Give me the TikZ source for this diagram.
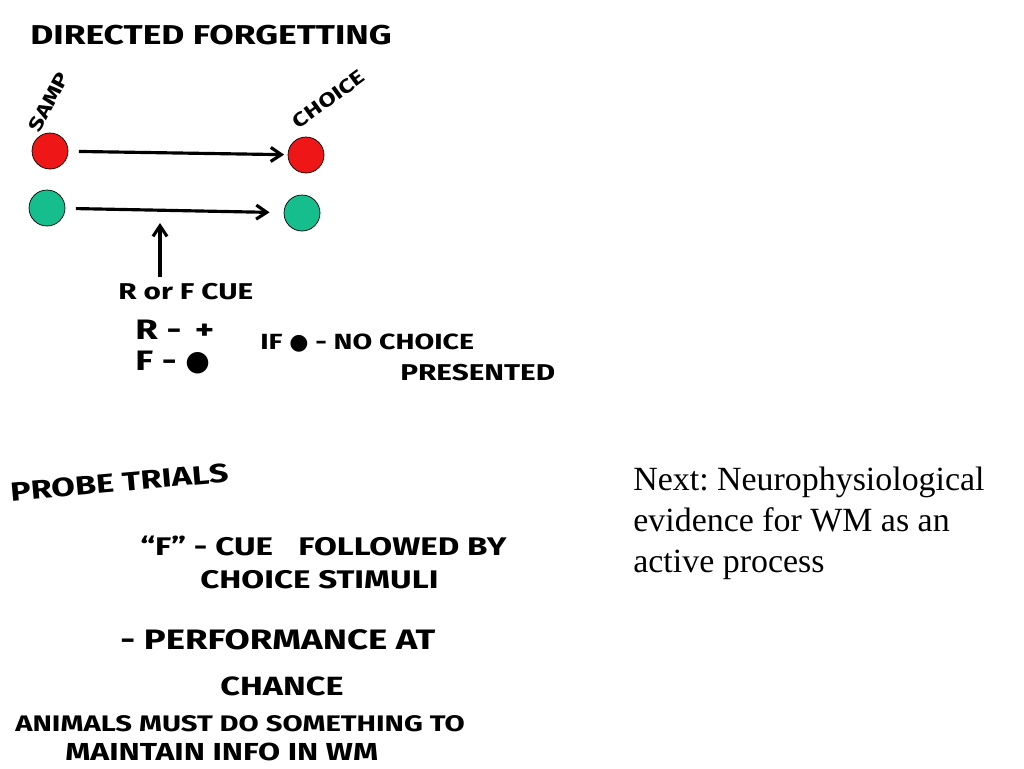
\documentclass[tikz,border=0pt]{standalone}
\usepackage{fontspec}
\setmainfont{Liberation Serif}
\newfontfamily\handfont[FakeStretch=1.3]{Fira Sans}
\newfontfamily\symfont{DejaVu Sans}
\usetikzlibrary{arrows.meta}
\definecolor{stimred}{RGB}{238,22,22}
\definecolor{stimgreen}{RGB}{22,190,142}

\begin{document}
\begin{tikzpicture}[
      x=0.02cm, y=-0.02cm,
      hand/.style={font=\handfont\bfseries, inner sep=0pt, anchor=west}, % letras a mano
      stim/.style={draw=black, circle, minimum size=0.72cm, inner sep=0pt},
      redstim/.style={stim, fill=stimred},
      greenstim/.style={stim, fill=stimgreen},
      arr/.style={-{Straight Barb[length=6pt, width=8pt]}, line width=1.8pt},
      note/.style={font=\fontsize{19.3}{23.3}\selectfont, align=left, anchor=north west, inner sep=0pt}
    ]
    \useasboundingbox (0,0) rectangle (1024,768);
    % Title
    \node [hand, font=\handfont\bfseries\fontsize{15.5}{18}\selectfont] (title) at (30,35) {DIRECTED FORGETTING};
    % Stimuli
    \node [redstim] (samred) at (50,151) {};
    \node [greenstim] (samgreen) at (47,208) {};
    \node [redstim] (chred) at (306,155) {};
    \node [greenstim] (chgreen) at (302,213) {};
    \node [hand, anchor=south west, rotate=62, font=\handfont\bfseries\fontsize{11}{11}\selectfont] (samp) at (40,134) {SAMP};
    \node [hand, anchor=south west, rotate=36, font=\handfont\bfseries\fontsize{11}{11}\selectfont] (choice) at (299,130) {CHOICE};
    \draw [arr, shorten <=6pt, shorten >=2pt] (samred) -- (chred);
    \draw [arr, shorten <=6pt, shorten >=8pt] (samgreen) -- (chgreen);
    % Cue
    \node [hand, font=\handfont\bfseries\fontsize{13}{14}\selectfont] (cue) at (118,292) {R or F CUE};
    \coordinate (cuept) at (160,223);
    \draw [arr] (cue.north -| cuept) ++(0,-6) -- (cuept);
    \node [hand, font=\handfont\bfseries\fontsize{16}{16}\selectfont] (rplus) at (135,330) {R\ -\ \,+};
    \node [hand, font=\handfont\bfseries\fontsize{16}{16}\selectfont] (fdot) at (135,362) {F\ -\ {\symfont ●}};
    \node [hand, font=\handfont\bfseries\fontsize{12.5}{14}\selectfont] (nochoice) at (260,343) {IF {\symfont ●} - NO CHOICE};
    \node [hand, font=\handfont\bfseries\fontsize{13}{14}\selectfont] (presented) at (400,373) {PRESENTED};
    % Probe trials
    \node [hand, rotate=5, font=\handfont\bfseries\fontsize{15}{16}\selectfont] (probe) at (10,492) {PROBE TRIALS};
    \node [hand, font=\handfont\bfseries\fontsize{14.5}{16}\selectfont] (fcue) at (140,546) {“F” - CUE\quad FOLLOWED BY};
    \node [hand, font=\handfont\bfseries\fontsize{14.5}{16}\selectfont] (stimuli) at (200,580) {CHOICE STIMULI};
    \node [hand, font=\handfont\bfseries\fontsize{16}{16}\selectfont] (perf) at (120,640) {- PERFORMANCE AT};
    \node [hand, font=\handfont\bfseries\fontsize{15}{16}\selectfont] (chance) at (220,686) {CHANCE};
    \node [hand, font=\handfont\bfseries\fontsize{12.8}{14}\selectfont] (animals) at (15,724) {ANIMALS MUST DO SOMETHING TO};
    \node [hand, font=\handfont\bfseries\fontsize{14}{14}\selectfont] (maintain) at (65,752) {MAINTAIN INFO IN WM};
    % Next
    \node [note] (next) at (633,467) {\frenchspacing Next: Neurophysiological\\evidence for WM as an\\active process};
\end{tikzpicture}
\end{document}
